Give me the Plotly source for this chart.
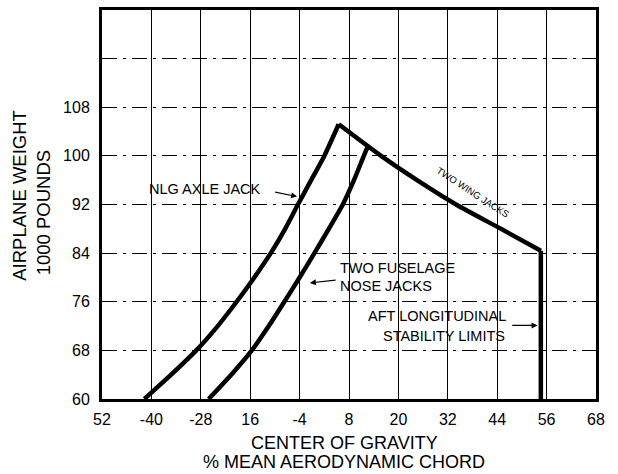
import plotly.graph_objects as go

# ---- data ----
x_ticks = [-52, -40, -28, -16, -4, 8, 20, 32, 44, 56, 68]
x_tick_text = ["52", "-40", "-28", "16", "-4", "8", "20", "32", "44", "56", "68"]
y_ticks = [60, 68, 76, 84, 92, 100, 108, 116, 124]
y_tick_text = ["60", "68", "76", "84", "92", "100", "108", "", ""]

# NLG axle jack curve (bottom to peak)
nlg_x = [-41.7, -35.2, -29.1, -23.9, -19.3, -15.0, -11.0, -7.5, -4.4, -1.2, 2.0, 5.5]
nlg_y = [60, 64, 68, 72, 76, 80, 84, 88, 92, 96, 100, 105.2]

# Two fuselage nose jacks curve
fus_x = [-26.1, -20.6, -15.6, -11.5, -7.7, -4.0, -0.4, 3.1, 6.5, 9.2, 11.6, 12.6]
fus_y = [60, 64, 68, 72, 76, 80, 84, 88, 92, 96, 100, 101.6]

# Two wing jacks line (peak to aft limit)
wing_x = [5.5, 15.8, 25.0, 34.0, 44.9, 54.6]
wing_y = [105.2, 100.0, 95.8, 92.0, 88.0, 84.4]

# Aft longitudinal stability limit
aft_x = [54.6, 54.6]
aft_y = [84.4, 60]

FONT = "Liberation Sans, Arial, Helvetica, sans-serif"
LW = 4.5

fig = go.Figure()

fig.add_trace(go.Scatter(
    x=nlg_x, y=nlg_y, mode="lines",
    line=dict(color="black", width=LW, shape="spline", smoothing=0.6),
    hoverinfo="skip", showlegend=False))
fig.add_trace(go.Scatter(
    x=wing_x, y=wing_y, mode="lines",
    line=dict(color="black", width=LW, shape="spline", smoothing=0.6),
    hoverinfo="skip", showlegend=False))
fig.add_trace(go.Scatter(
    x=aft_x, y=aft_y, mode="lines",
    line=dict(color="black", width=LW),
    hoverinfo="skip", showlegend=False))
fig.add_trace(go.Scatter(
    x=fus_x, y=fus_y, mode="lines",
    line=dict(color="black", width=LW, shape="spline", smoothing=0.6),
    hoverinfo="skip", showlegend=False))

TF = dict(size=14.5, color="black", family=FONT)
ann = []
# NLG AXLE JACK
ann.append(dict(x=-27.0, y=94.6, xref="x", yref="y", text="NLG AXLE JACK",
                showarrow=False, font=TF))
ann.append(dict(x=-4.6, y=93.3, ax=-10.3, ay=94.1, xref="x", yref="y", axref="x", ayref="y",
                text="", showarrow=True, arrowhead=2, arrowsize=1, arrowwidth=1.2, arrowcolor="black"))
# TWO FUSELAGE NOSE JACKS
ann.append(dict(x=5.4, y=81.6, xref="x", yref="y", text="TWO FUSELAGE", xanchor="left",
                showarrow=False, font=TF))
ann.append(dict(x=5.4, y=78.6, xref="x", yref="y", text="NOSE JACKS", xanchor="left",
                showarrow=False, font=TF))
ann.append(dict(x=-1.5, y=79.1, ax=5.1, ay=79.6, xref="x", yref="y", axref="x", ayref="y",
                text="", showarrow=True, arrowhead=2, arrowsize=1, arrowwidth=1.2, arrowcolor="black"))
# AFT LONGITUDINAL STABILITY LIMITS
ann.append(dict(x=46.6, y=73.6, xref="x", yref="y", text="AFT LONGITUDINAL", xanchor="right",
                showarrow=False, font=TF))
ann.append(dict(x=46.4, y=70.3, xref="x", yref="y", text="STABILITY LIMITS", xanchor="right",
                showarrow=False, font=TF))
ann.append(dict(x=53.8, y=72.1, ax=47.3, ay=72.1, xref="x", yref="y", axref="x", ayref="y",
                text="", showarrow=True, arrowhead=2, arrowsize=1, arrowwidth=1.2, arrowcolor="black"))
# TWO WING JACKS (small rotated)
ann.append(dict(x=38.2, y=94.0, xref="x", yref="y", text="TWO WING JACKS", textangle=33,
                showarrow=False, font=dict(size=9.5, color="black", family=FONT)))
# axis titles
ann.append(dict(x=0.490, y=-0.112, xref="paper", yref="paper", xanchor="center", yanchor="middle",
                text="CENTER OF GRAVITY", showarrow=False,
                font=dict(size=18, color="black", family=FONT)))
ann.append(dict(x=0.490, y=-0.163, xref="paper", yref="paper", xanchor="center", yanchor="middle",
                text="% MEAN AERODYNAMIC CHORD", showarrow=False,
                font=dict(size=18, color="black", family=FONT)))
ann.append(dict(x=-0.166, y=0.525, xref="paper", yref="paper", textangle=-90,
                xanchor="center", yanchor="middle",
                text="AIRPLANE WEIGHT", showarrow=False,
                font=dict(size=18.5, color="black", family=FONT)))
ann.append(dict(x=-0.119, y=0.478, xref="paper", yref="paper", textangle=-90,
                xanchor="center", yanchor="middle",
                text="1000 POUNDS", showarrow=False,
                font=dict(size=18.5, color="black", family=FONT)))

fig.update_layout(
    width=618, height=474,
    margin=dict(l=102, r=22, t=7, b=75),
    paper_bgcolor="white", plot_bgcolor="white",
    font=dict(family=FONT, color="black", size=16),
    annotations=ann,
    xaxis=dict(range=[-52, 68], tickvals=x_ticks, ticktext=x_tick_text,
               showgrid=True, gridcolor="black", gridwidth=1, griddash="solid",
               showline=True, linecolor="black", linewidth=3, mirror=True,
               zeroline=False, ticks="", ticklabelstandoff=4,
               tickfont=dict(size=16, color="black", family=FONT)),
    yaxis=dict(range=[60, 124], tickvals=y_ticks, ticktext=y_tick_text,
               showgrid=True, gridcolor="black", gridwidth=1, griddash="longdashdot",
               showline=True, linecolor="black", linewidth=3, mirror=True,
               zeroline=False, ticks="", ticklabelstandoff=6,
               tickfont=dict(size=16, color="black", family=FONT)),
)

fig.write_html("out.html", config={"displayModeBar": False},
               post_script="document.body.style.margin='0';document.body.style.overflow='hidden';")
